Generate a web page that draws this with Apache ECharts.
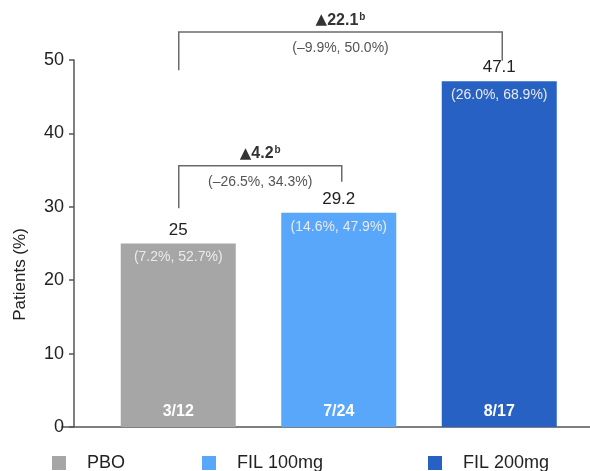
<!DOCTYPE html>
<html>
<head>
<meta charset="utf-8">
<script src="https://cdn.jsdelivr.net/npm/echarts@6/dist/echarts.min.js"></script>
<style>
html,body{margin:0;padding:0;background:#fff;}
#chart{width:590px;height:471px;}
</style>
</head>
<body>
<div id="chart"></div>
<script>
const categories = ['PBO', 'FIL 100mg', 'FIL 200mg'];
const responseRate = [25, 29.2, 47.1];
const ciLabels = ['(7.2%, 52.7%)', '(14.6%, 47.9%)', '(26.0%, 68.9%)'];
const counts = ['3/12', '7/24', '8/17'];
const colors = ['#a6a6a6', '#59a7fa', '#2761c4'];
const yTicks = [0, 10, 20, 30, 40, 50];

const compFrom = [0, 0];
const compTo = [1, 2];
const compDiff = ['4.2', '22.1'];
const compCI = ['(\u201326.5%, 34.3%)', '(\u20139.9%, 50.0%)'];
const bracketTop = [35.6, 53.8];
const bracketLeftBottom = [29.8, 48.6];
const bracketRightBottom = [33.4, 49.9];

const FONT = '"Liberation Sans", Arial, Helvetica, sans-serif';

const chart = echarts.init(document.getElementById('chart'));

const barSeries = categories.map((name, i) => ({
  name: name,
  type: 'bar',
  stack: 'all',
  xAxisIndex: 0,
  yAxisIndex: 0,
  barWidth: 115,
  itemStyle: { color: colors[i] },
  label: {
    show: true,
    position: 'top',
    distance: 5,
    fontFamily: FONT,
    fontSize: 17,
    color: '#222'
  },
  data: categories.map((c, j) => (j === i ? responseRate[i] : '-'))
}));

const annotSeries = {
  type: 'custom',
  xAxisIndex: 0,
  yAxisIndex: 0,
  silent: true,
  z: 10,
  data: categories.map((c, i) => [i, responseRate[i]]),
  renderItem: function (params, api) {
    const i = params.dataIndex;
    const top = api.coord([api.value(0), api.value(1)]);
    const base = api.coord([api.value(0), 0]);
    return {
      type: 'group',
      children: [
        {
          type: 'text',
          style: {
            x: top[0], y: top[1] + 14, text: ciLabels[i],
            fill: '#eaeaea', font: '14px ' + FONT,
            align: 'center', verticalAlign: 'middle'
          }
        },
        {
          type: 'text',
          style: {
            x: base[0], y: base[1] - 15, text: counts[i],
            fill: '#ffffff', font: 'bold 16px ' + FONT,
            align: 'center', verticalAlign: 'middle'
          }
        }
      ]
    };
  }
};

const bracketSeries = {
  type: 'custom',
  xAxisIndex: 0,
  yAxisIndex: 0,
  silent: true,
  clip: false,
  z: 10,
  data: compFrom.map((f, k) => [f, compTo[k], bracketTop[k], bracketLeftBottom[k], bracketRightBottom[k]]),
  renderItem: function (params, api) {
    const k = params.dataIndex;
    const lt = api.coord([api.value(0), api.value(2)]);
    const lb = api.coord([api.value(0), api.value(3)]);
    const rt = api.coord([api.value(1), api.value(2)]);
    const rb = api.coord([api.value(1), api.value(4)]);
    const xl = lt[0] + 0.5, xr = rt[0] + 3;
    const cx = (xl + xr) / 2;
    return {
      type: 'group',
      children: [
        {
          type: 'polyline',
          shape: { points: [[xl, lb[1]], [xl, lt[1]], [xr, rt[1]], [xr, rb[1]]] },
          style: { stroke: '#6b6b6b', lineWidth: 1.5, fill: null }
        },
        {
          type: 'text',
          style: {
            x: cx, y: lt[1] - 12,
            text: '{t|\u25B2}{a|' + compDiff[k] + '}{b|b}',
            align: 'center', verticalAlign: 'middle',
            rich: {
              t: { font: '15px "DejaVu Sans", sans-serif', fill: '#333' },
              a: { font: 'bold 16px ' + FONT, fill: '#333' },
              b: { font: 'bold 10px ' + FONT, fill: '#333', verticalAlign: 'top', padding: [0, 0, 6, 1] }
            }
          }
        },
        {
          type: 'text',
          style: {
            x: cx, y: lt[1] + 16, text: compCI[k],
            fill: '#555', font: '14px ' + FONT,
            align: 'center', verticalAlign: 'middle'
          }
        }
      ]
    };
  }
};

function legendFor(i, left) {
  return {
    data: [categories[i]],
    left: left,
    top: 449,
    itemWidth: 14,
    itemHeight: 14,
    icon: 'rect',
    selectedMode: false,
    textStyle: { fontFamily: FONT, fontSize: 18, color: '#222', padding: [0, 0, 0, 16] }
  };
}

chart.setOption({
  animation: false,
  backgroundColor: '#fff',
  textStyle: { fontFamily: FONT },
  grid: [
    { left: 98, right: 10.5, top: 60, bottom: 44 },
    { left: 62, right: 0, top: 60, bottom: 44 }
  ],
  legend: [legendFor(0, 47), legendFor(1, 197), legendFor(2, 423)],
  xAxis: [
    {
      type: 'category',
      gridIndex: 0,
      data: categories,
      axisLine: { show: false },
      axisTick: { show: false },
      axisLabel: { show: false }
    },
    {
      type: 'value',
      gridIndex: 1,
      min: 0, max: 1,
      axisLine: { show: true, lineStyle: { color: '#555', width: 1.5 } },
      axisTick: { show: false },
      axisLabel: { show: false },
      splitLine: { show: false }
    }
  ],
  yAxis: [
    {
      type: 'value',
      gridIndex: 0,
      min: 0, max: 50, interval: 10,
      offset: 24,
      name: 'Patients (%)',
      nameLocation: 'middle',
      nameGap: 45,
      nameRotate: 90,
      nameTextStyle: { fontFamily: FONT, fontSize: 17, color: '#222', padding: [0, 62, 0, 0] },
      axisLine: { show: true, lineStyle: { color: '#555', width: 1.5 } },
      axisTick: { show: true, length: 5, lineStyle: { color: '#555', width: 1.5 } },
      axisLabel: {
        margin: 10, fontFamily: FONT, fontSize: 18, color: '#222',
        formatter: function (v) { return yTicks.indexOf(v) >= 0 ? String(v) : ''; }
      },
      splitLine: { show: false }
    },
    {
      type: 'value',
      gridIndex: 1,
      show: false
    }
  ],
  series: barSeries.concat([annotSeries, bracketSeries])
});
</script>
</body>
</html>
